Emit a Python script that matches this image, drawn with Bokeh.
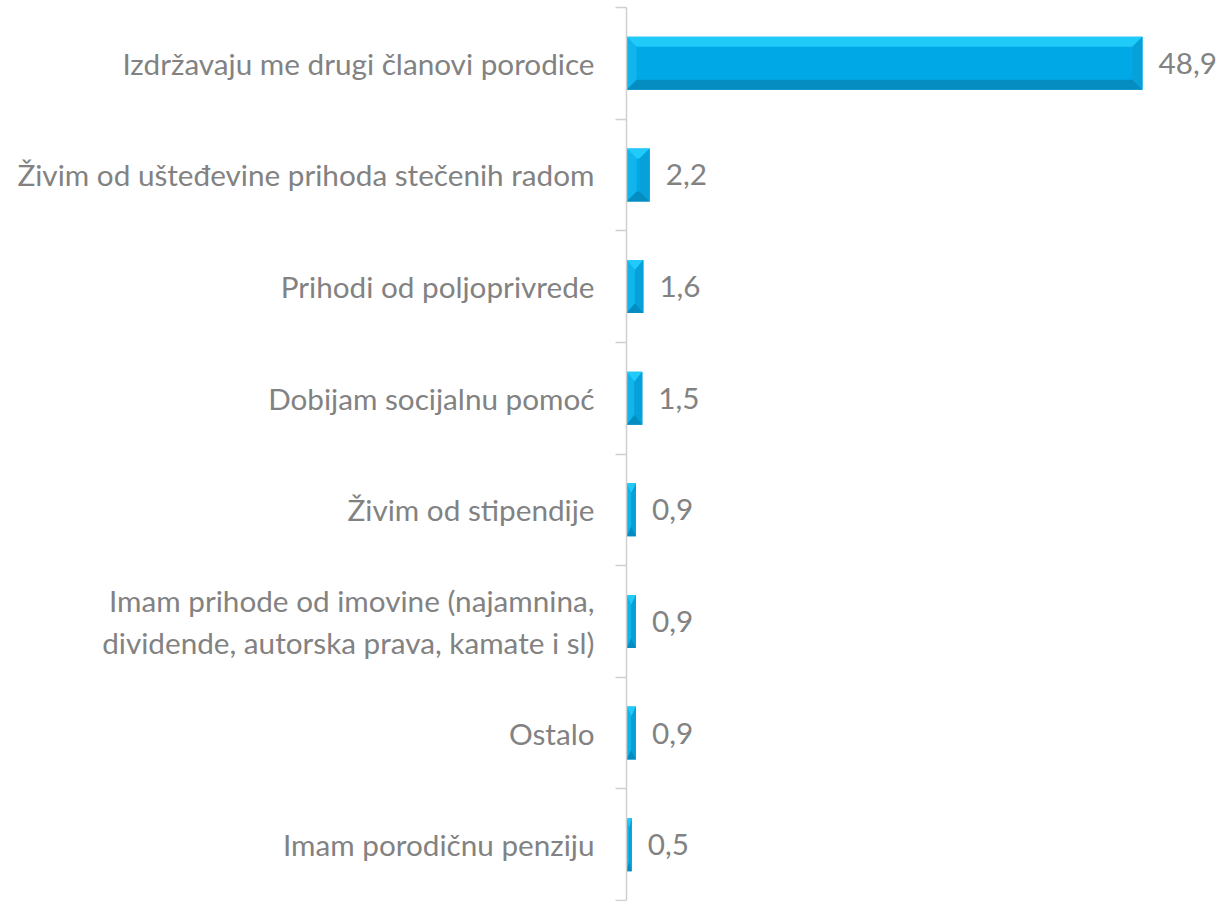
from bokeh.plotting import figure
from bokeh.models import Range1d, FixedTicker, ColumnDataSource
from bokeh.core.properties import value
from bokeh.embed import file_html
from bokeh.resources import INLINE

categories = [
    "Izdržavaju me drugi članovi porodice",
    "Živim od ušteđevine prihoda stečenih radom",
    "Prihodi od poljoprivrede",
    "Dobijam socijalnu pomoć",
    "Živim od stipendije",
    "Imam prihode od imovine (najamnina,\ndividende, autorska prava, kamate i sl)",
    "Ostalo",
    "Imam porodičnu penziju",
]
values = [48.9, 2.2, 1.6, 1.5, 0.9, 0.9, 0.9, 0.5]
value_labels = ["48,9", "2,2", "1,6", "1,5", "0,9", "0,9", "0,9", "0,5"]

FONT = "Lato"
FSIZE = "29.7px"
GRAY = "#828282"
AXIS = "#d0d0d0"

n = len(categories)
centers = [i + 0.5 for i in range(n)]
bounds = [i for i in range(n + 1)]

W, H = 1218, 901
LEFT, TOP, BOTTOM = 626, 7, 1
XMAX = 56.1
p = figure(width=W, height=H, output_backend="svg", toolbar_location=None,
           x_range=Range1d(0, XMAX), y_range=Range1d(n, 0),
           x_axis_location=None, min_border_left=LEFT, min_border_right=0,
           min_border_top=TOP, min_border_bottom=BOTTOM)
p.outline_line_color = None
p.xgrid.visible = False
p.ygrid.visible = False

# bar geometry (bevelled look)
half = 0.2375
px_x = XMAX / (W - LEFT)
px_y = n / (H - TOP - BOTTOM)
bev_x = 10 * px_x
bev_y = 10 * px_y

p.hbar(y=centers, left=0, right=values, height=2 * half, fill_color="#00a8e6", line_color=None)

top_x, top_y, bot_x, bot_y, lft_x, lft_y, rgt_x, rgt_y = [], [], [], [], [], [], [], []
for c, v in zip(centers, values):
    bx = min(bev_x, v / 2)
    y0, y1 = c - half, c + half
    top_x.append([0, v, v - bx, bx]); top_y.append([y0, y0, y0 + bev_y, y0 + bev_y])
    bot_x.append([0, v, v - bx, bx]); bot_y.append([y1, y1, y1 - bev_y, y1 - bev_y])
    lft_x.append([0, bx, bx, 0]); lft_y.append([y0, y0 + bev_y, y1 - bev_y, y1])
    rgt_x.append([v, v - bx, v - bx, v]); rgt_y.append([y0, y0 + bev_y, y1 - bev_y, y1])

p.patches(top_x, top_y, fill_color="#20cbfa", line_color=None)
p.patches(bot_x, bot_y, fill_color="#058cc0", line_color=None)
p.patches(lft_x, lft_y, fill_color="#10b5ec", line_color=None)
p.patches(rgt_x, rgt_y, fill_color="#07a0d8", line_color=None)

src = ColumnDataSource(dict(x=values, y=centers, t=value_labels))
p.text(x="x", y="y", text="t", source=src, x_offset=16, text_baseline="middle",
       text_align="left", text_font=value(FONT), text_font_size=FSIZE, text_color=GRAY)

ax = p.yaxis[0]
ax.ticker = FixedTicker(ticks=centers, minor_ticks=bounds)
ax.major_label_overrides = {c: lab for c, lab in zip(centers, categories)}
ax.major_tick_out = 0
ax.major_tick_in = 0
ax.minor_tick_out = 11
ax.minor_tick_in = 0
ax.minor_tick_line_color = AXIS
ax.minor_tick_line_width = 1.5
ax.axis_line_color = AXIS
ax.axis_line_width = 1.5
ax.major_label_standoff = 21
ax.major_label_text_font = FONT
ax.major_label_text_font_size = FSIZE
ax.major_label_text_color = GRAY
ax.major_label_text_align = "right"

open("out.html", "w").write(file_html(p, INLINE))
